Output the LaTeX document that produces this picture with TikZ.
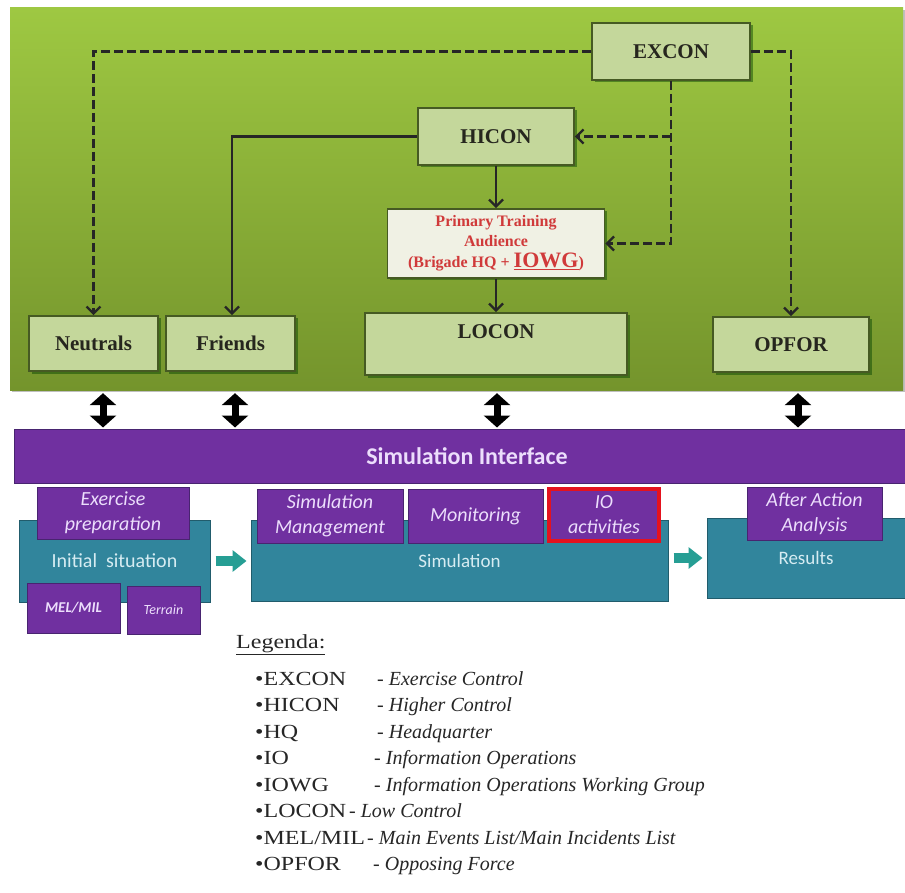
\documentclass[tikz,border=0pt]{standalone}
\usepackage{fontspec}
\setmainfont{Liberation Serif}
\newfontfamily\calib{Carlito}
\newfontfamily\legfont[FakeStretch=1.2]{Liberation Serif}
\usetikzlibrary{arrows.meta,shadows,calc}
\definecolor{bgtop}{RGB}{158,200,66}
\definecolor{bgbot}{RGB}{116,148,44}
\definecolor{gfill}{RGB}{196,215,155}
\definecolor{gedge}{RGB}{70,90,35}
\definecolor{pfill}{RGB}{240,241,228}
\definecolor{redtxt}{RGB}{208,58,58}
\definecolor{purp}{RGB}{112,48,160}
\definecolor{purpedge}{RGB}{72,36,112}
\definecolor{tealbox}{RGB}{49,133,156}
\definecolor{tealedge}{RGB}{33,92,108}
\definecolor{tarrow}{RGB}{38,158,148}
\definecolor{ltxt}{RGB}{236,222,252}
\definecolor{ttxt}{RGB}{214,236,242}
\definecolor{iored}{RGB}{228,18,30}
\definecolor{boxtxt}{RGB}{38,38,30}
\tikzset{
  gbox/.style={draw=gedge, line width=1.6pt, fill=gfill, text=boxtxt,
    font=\bfseries\fontsize{21}{24}\selectfont, inner sep=0pt,
    drop shadow={shadow xshift=2.5pt, shadow yshift=-2.5pt, fill=black!75!green, opacity=.45}},
  pbox/.style={draw=purpedge, line width=1pt, fill=purp, text=ltxt, align=center,
    font=\calib\itshape\fontsize{20}{25}\selectfont, inner sep=0pt},
  tbox/.style={draw=tealedge, line width=1pt, fill=tealbox, text=ttxt,
    font=\calib\fontsize{20}{24}\selectfont, inner sep=0pt},
  dasharr/.style={line width=2.4pt, dash pattern=on 9pt off 4pt, black!85,
    -{Straight Barb[length=7pt,width=14pt]}},
  solarr/.style={line width=2.4pt, black!85, -{Straight Barb[length=7pt,width=14pt]}},
  dblarr/.style={line width=7pt, black,
    {Triangle[length=12pt,width=26pt]}-{Triangle[length=12pt,width=26pt]}},
  tarr/.style={line width=10pt, tarrow, -{Triangle[length=14pt,width=21pt]},
    shorten <=5pt, shorten >=4pt},
  legkey/.style={anchor=base west, inner sep=0pt, text=black!85,
    font=\legfont\fontsize{20}{24}\selectfont},
  legdesc/.style={anchor=base west, inner sep=0pt, text=black!85,
    font=\rmfamily\itshape\fontsize{20}{24}\selectfont}
}
\begin{document}
\begin{tikzpicture}[x=1pt,y=-1pt]
\useasboundingbox (0,0) rectangle (905,893);
\fill[white] (0,0) rectangle (905,893);
% green field
\node[top color=bgtop, bottom color=bgbot, minimum width=893pt, minimum height=382pt,
  inner sep=0pt, drop shadow={shadow xshift=2pt, shadow yshift=-2pt, fill=black, opacity=.25}]
  (field) at (456.5,199) {};
% control boxes
\node[gbox, minimum width=158pt, minimum height=57pt] (excon) at (671,51.5) {EXCON};
\node[gbox, minimum width=156pt, minimum height=57pt] (hicon) at (496,136.5) {HICON};
\node[gbox, fill=pfill, text=redtxt, align=center, minimum width=217pt, minimum height=69pt,
  font=\bfseries\fontsize{16}{20}\selectfont] (pta) at (496,243.5)
  {Primary Training\\Audience\\[1pt]{\fontsize{16}{18}\selectfont(Brigade HQ + }{\fontsize{22}{22}\selectfont\underline{IOWG}}{\fontsize{16}{18}\selectfont)}};
\node[gbox, minimum width=262pt, minimum height=62pt, text height=14pt, text depth=26pt,
  inner ysep=11pt] (locon) at (496,344) {LOCON};
\node[gbox, minimum width=129pt, minimum height=55pt] (neutrals) at (93.5,343.5) {Neutrals};
\node[gbox, minimum width=129pt, minimum height=55pt] (friends) at (230.5,343.5) {Friends};
\node[gbox, minimum width=156pt, minimum height=55pt] (opfor) at (791,344.5) {OPFOR};
% control connectors
\draw[dasharr] (excon.west) -| (neutrals.north);
\draw[dasharr] (excon.east) -| (opfor.north);
\draw[dasharr] (excon.south) |- (pta.east);
\draw[dasharr] (excon.south |- hicon.east) -- (hicon.east);
\draw[solarr] (hicon.west) -| ($(friends.north)+(1.5,0)$);
\draw[solarr] (hicon.south) -- (pta.north);
\draw[solarr] (pta.south) -- (locon.north);
% simulation interface
\node[fill=purp, draw=purpedge, line width=1pt, minimum width=891pt, minimum height=54pt,
  inner sep=0pt, text=ltxt, font=\calib\bfseries\fontsize{24}{28}\selectfont]
  (simint) at (459.5,456) {\hspace{15pt}Simulation Interface};
\draw[dblarr] ($(neutrals.south |- field.south)+(9.5,3)$) -- ($(neutrals.south |- simint.north)+(9.5,-1)$);
\draw[dblarr] ($(friends.south |- field.south)+(4.5,3)$) -- ($(friends.south |- simint.north)+(4.5,-1)$);
\draw[dblarr] ($(locon.south |- field.south)+(1,3)$) -- ($(locon.south |- simint.north)+(1,-1)$);
\draw[dblarr] ($(opfor.south |- field.south)+(7,3)$) -- ($(opfor.south |- simint.north)+(7,-1)$);
% lower process
\node[tbox, minimum width=191pt, minimum height=82pt] (init) at (114.5,561) {Initial\hspace{0.45em}situation};
\node[pbox, minimum width=152pt, minimum height=52pt] (exprep) at (113,513) {Exercise\\preparation};
\node[pbox, minimum width=93pt, minimum height=50pt, font=\calib\bfseries\itshape\fontsize{15}{18}\selectfont] (mel) at (73.5,608) {MEL/MIL};
\node[pbox, minimum width=73pt, minimum height=48pt, font=\calib\itshape\fontsize{14}{17}\selectfont] (terrain) at (163.5,610) {Terrain};
\node[tbox, minimum width=417pt, minimum height=81pt, font=\calib\fontsize{19}{23}\selectfont] (sim) at (459.5,560.5) {Simulation};
\node[pbox, minimum width=146pt, minimum height=54pt] (simman) at (330,516) {Simulation\\Management};
\node[pbox, minimum width=135pt, minimum height=54pt] (monit) at (475.5,516) {Monitoring};
\node[pbox, draw=iored, line width=4pt, minimum width=110pt, minimum height=52pt] (ioact) at (604,515) {IO\\activities};
\node[tbox, minimum width=198pt, minimum height=80pt, font=\calib\fontsize{19}{23}\selectfont] (results) at (806,558) {Results};
\node[pbox, minimum width=135pt, minimum height=53pt] (aaa) at (814.5,513.5) {After Action\\Analysis};
\draw[tarr] (init.east) -- (sim.west |- init.east);
\draw[tarr] (sim.east |- results.west) -- (results.west);
% legend
\node[legkey] (leg) at (236,648) {\underline{Legenda:}};
\node[legkey] (k1) at (255,685) {•EXCON};
\node[legdesc] (d1) at (377,685) {- Exercise Control};
\node[legkey] (k2) at (255,711.5) {•HICON};
\node[legdesc] (d2) at (377,711.5) {- Higher Control};
\node[legkey] (k3) at (255,738) {•HQ};
\node[legdesc] (d3) at (377,738) {- Headquarter};
\node[legkey] (k4) at (255,764.5) {•IO};
\node[legdesc] (d4) at (374,764.5) {- Information Operations};
\node[legkey] (k5) at (255,791) {•IOWG};
\node[legdesc] (d5) at (374,791) {- Information Operations Working Group};
\node[legkey] (k6) at (255,817.5) {•LOCON};
\node[legdesc] (d6) at (349,817.5) {- Low Control};
\node[legkey] (k7) at (255,844) {•MEL/MIL};
\node[legdesc] (d7) at (367,844) {- Main Events List/Main Incidents List};
\node[legkey] (k8) at (255,870.5) {•OPFOR};
\node[legdesc] (d8) at (373,870.5) {- Opposing Force};
\end{tikzpicture}
\end{document}
